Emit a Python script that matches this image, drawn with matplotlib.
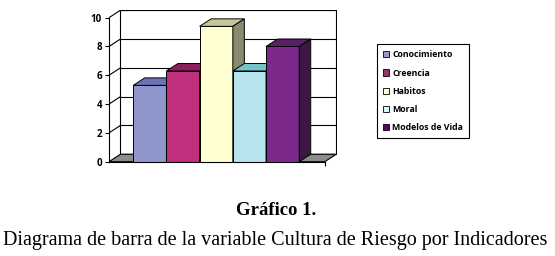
import numpy as np
import matplotlib.pyplot as plt
from matplotlib.patches import Polygon, Patch

#==============================
#          DATA
#==============================
categorias = ["Conocimiento", "Creencia", "Habitos", "Moral", "Modelos de Vida"]
valores = [5.3, 6.3, 9.4, 6.3, 8.0]
yticks = [0, 2, 4, 6, 8, 10]

c_frente = ["#8F96CB", "#C0307E", "#FFFFD2", "#B8E4F0", "#7B2A8C"]
c_tapa = ["#6A74B4", "#8E1F5E", "#C6C69B", "#74C4CA", "#5C1E6A"]
c_lado = ["#4E5690", "#6A1746", "#8A8A70", "#5A9FA5", "#3B1844"]
c_leyenda = ["#9999CC", "#993366", "#FFFFCC", "#CCFFFF", "#660066"]

titulo = "Gráfico 1."
subtitulo = "Diagrama de barra de la variable Cultura de Riesgo por Indicadores"

#==============================
#          GEOMETRY
#==============================
x0, x1 = -1.23, 5.27     # front edge of floor
dx, dy = 0.346, 0.52     # depth offset
ymax = 10

fig = plt.figure(figsize=(5.55, 2.56), dpi=100)
W, H = 555.0, 256.0
ax = fig.add_axes([109/W, (H-161.7)/H, (x1+dx-x0+0.02)*33.2/W, (ymax+dy+0.03)*14.4/H])
ax.set_xlim(x0, x1+dx+0.02)
ax.set_ylim(0, ymax+dy+0.03)
ax.patch.set_alpha(0)

# back wall
ax.add_patch(Polygon([(x0+dx, dy), (x1+dx, dy), (x1+dx, ymax+dy), (x0+dx, ymax+dy)],
                     closed=True, fc="white", ec="black", lw=0.8, zorder=1))
for v in yticks[1:]:
    ax.plot([x0+dx, x1+dx], [v+dy, v+dy], color="black", lw=0.8, zorder=1.5)
    ax.plot([x0, x0+dx], [v, v+dy], color="black", lw=0.8, zorder=1.5)

# floor
ax.add_patch(Polygon([(x0, 0), (x1, 0), (x1+dx, dy), (x0+dx, dy)],
                     closed=True, fc="#8C8C8C", ec="black", lw=0.8, zorder=2))

# bars
for i, v in enumerate(valores):
    l, r = i-0.5, i+0.5
    z = 3 + i
    ax.bar(i, v, width=1, color=c_frente[i], edgecolor="black", lw=0.7, zorder=z)
    ax.add_patch(Polygon([(l, v), (r, v), (r+dx, v+dy), (l+dx, v+dy)],
                         closed=True, fc=c_tapa[i], ec="black", lw=0.7, zorder=z))
    ax.add_patch(Polygon([(r, 0), (r+dx, dy), (r+dx, v+dy), (r, v)],
                         closed=True, fc=c_lado[i], ec="black", lw=0.7, zorder=z))

# axes
for s in ["top", "right"]:
    ax.spines[s].set_visible(False)
ax.spines["left"].set_bounds(0, ymax)
ax.spines["bottom"].set_bounds(x0, x1)
ax.spines["left"].set_linewidth(0.8)
ax.spines["bottom"].set_linewidth(0.8)
ax.spines["left"].set_zorder(10)
ax.spines["bottom"].set_zorder(10)
ax.set_yticks(yticks)
ax.set_yticklabels([str(t) for t in yticks], fontsize=7, fontweight="bold", family="Open Sans")
ax.set_xticks([x1])
ax.set_xticklabels([""])
ax.tick_params(axis="y", direction="out", length=3, width=0.8, pad=2)
ax.tick_params(axis="x", direction="out", length=3, width=0.8)

# legend
handles = [Patch(fc=c, ec="black", lw=0.6) for c in c_leyenda]
leg = ax.legend(handles, categorias, loc="upper left",
                bbox_to_anchor=(376.7/W, 1-44.3/H), bbox_transform=fig.transFigure,
                borderaxespad=0, fancybox=False, framealpha=1, edgecolor="black",
                prop={"family": "Open Sans", "weight": "bold", "size": 6.3},
                handlelength=0.7, handleheight=0.7, handletextpad=0.4,
                labelspacing=1.05, borderpad=0.7)
leg.get_frame().set_linewidth(0.8)

# captions
fig.text(276.5/W, 1-215/H, titulo, ha="center", va="baseline", fontsize=13.5,
         fontweight="bold", family="Liberation Serif")
fig.text(274.7/W, 1-245/H, subtitulo, ha="center", va="baseline", fontsize=14.5,
         family="Liberation Serif")

fig.savefig("out.png", dpi=100)
